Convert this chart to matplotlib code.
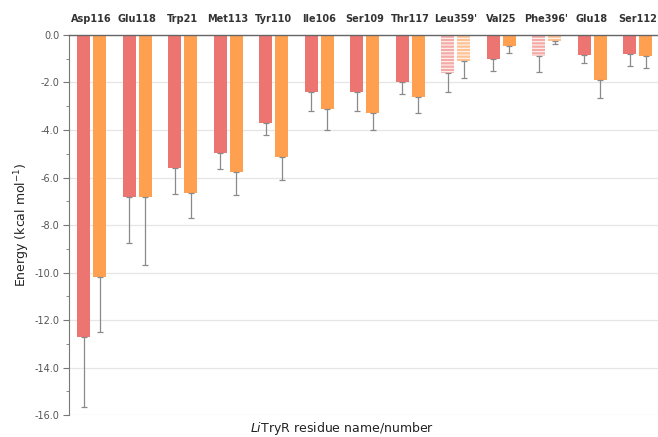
import numpy as np
import matplotlib
matplotlib.use('Agg')
import matplotlib.pyplot as plt

# -----------------------------
# Per-residue interaction energies (kcal/mol)
# -----------------------------
residues = ["Asp116", "Glu118", "Trp21", "Met113", "Tyr110", "Ile106", "Ser109",
            "Thr117", "Leu359'", "Val25", "Phe396'", "Glu18", "Ser112"]
energy_a = [-12.7, -6.8, -5.6, -4.95, -3.7, -2.4, -2.4, -2.0, -1.6, -1.0, -0.9, -0.85, -0.8]
err_a = [2.95, 1.95, 1.1, 0.7, 0.5, 0.8, 0.8, 0.5, 0.8, 0.5, 0.65, 0.35, 0.5]
energy_b = [-10.2, -6.8, -6.65, -5.75, -5.15, -3.1, -3.3, -2.6, -1.1, -0.45, -0.25, -1.9, -0.9]
err_b = [2.3, 2.9, 1.05, 1.0, 0.95, 0.9, 0.7, 0.7, 0.7, 0.3, 0.15, 0.75, 0.5]
# residues from the second monomer get a striped fill
primed = [r.endswith("'") for r in residues]

red = "#EC7471"
orange = "#FFA050"
red_light = "#F4AAA6"
orange_light = "#FFC393"

fig = plt.figure(figsize=(6.58, 4.37), dpi=100)
ax = fig.add_axes([0.105, 0.05, 0.895, 0.87])

x = np.arange(len(residues))
w = 0.285
off = 0.176
plt.rcParams['hatch.linewidth'] = 0.8

for i in x:
    for val, err, pos, col, light in ((energy_a[i], err_a[i], i - off, red, red_light),
                                      (energy_b[i], err_b[i], i + off, orange, orange_light)):
        if primed[i]:
            ax.bar(pos, val, w, color=light, edgecolor="#fff4f2", linewidth=0,
                   hatch="-----", zorder=2)
        else:
            ax.bar(pos, val, w, color=col, linewidth=0, zorder=2)
        ax.errorbar(pos, val, yerr=[[err], [0]], fmt="none", ecolor="#8a8a8a",
                    elinewidth=0.9, capsize=2, capthick=0.9, zorder=3)

ax.set_xlim(-0.495, 12.45)
ax.set_ylim(-16, 0)
ax.set_yticks(np.arange(-16, 0.1, 2))
ax.set_yticks(np.arange(-16, 0.1, 1), minor=True)
ax.set_yticklabels([f"{v:.1f}" for v in np.arange(-16, 0.1, 2)], fontsize=7, color="#555555")
ax.tick_params(axis="y", which="major", length=4, color="#777777", pad=3)
ax.tick_params(axis="y", which="minor", length=2, color="#777777")
ax.yaxis.grid(True, color="#e6e6e6", linewidth=0.9, zorder=0)
ax.set_axisbelow(True)

ax.xaxis.tick_top()
ax.set_xticks(x)
ax.set_xticklabels(residues, fontsize=7, fontweight="bold", color="#333333")
ax.tick_params(axis="x", length=0, pad=8)

for s in ("right", "bottom"):
    ax.spines[s].set_visible(False)
ax.spines["top"].set_color("#666666")
ax.spines["top"].set_linewidth(1.0)
ax.spines["top"].set_zorder(4)
ax.spines["left"].set_color("#777777")

ax.set_ylabel("Energy (kcal mol$^{-1}$)", fontsize=9, color="#222222", labelpad=2)
fig.text(0.52, 0.012, "$\\it{Li}$TryR residue name/number", ha="center",
         fontsize=9, color="#222222")

fig.savefig("out.png", dpi=100)
